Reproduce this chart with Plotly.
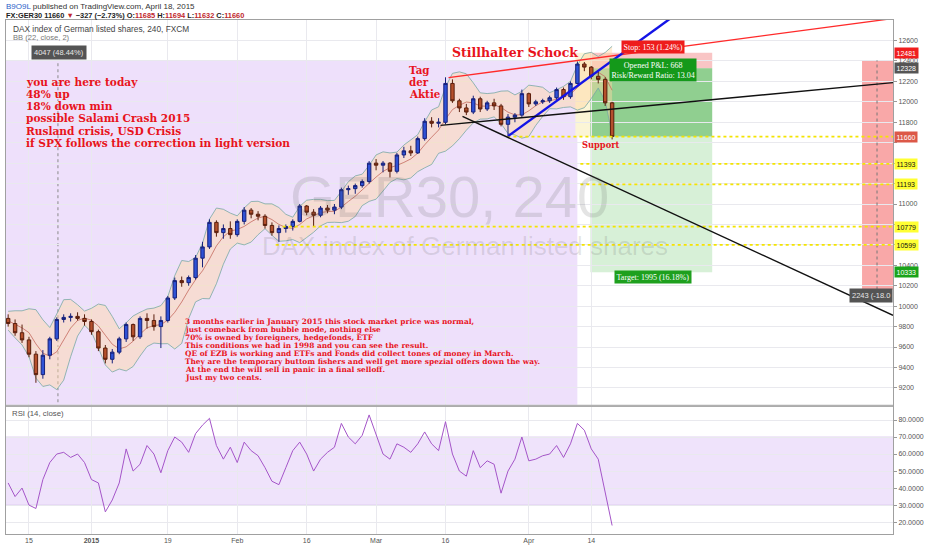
import numpy as np
import plotly.graph_objects as go

# ---------------- data ----------------
dates = [
    "2014-12-10", "2014-12-11", "2014-12-12", "2014-12-15", "2014-12-16", "2014-12-17", "2014-12-18", "2014-12-19", "2014-12-22", "2014-12-23",
    "2014-12-29", "2014-12-30", "2015-01-02", "2015-01-05", "2015-01-06", "2015-01-07", "2015-01-08", "2015-01-09", "2015-01-12", "2015-01-13",
    "2015-01-14", "2015-01-15", "2015-01-16", "2015-01-19", "2015-01-20", "2015-01-21", "2015-01-22", "2015-01-23", "2015-01-26", "2015-01-27",
    "2015-01-28", "2015-01-29", "2015-01-30", "2015-02-02", "2015-02-03", "2015-02-04", "2015-02-05", "2015-02-06", "2015-02-09", "2015-02-10",
    "2015-02-11", "2015-02-12", "2015-02-13", "2015-02-16", "2015-02-17", "2015-02-18", "2015-02-19", "2015-02-20", "2015-02-23", "2015-02-24",
    "2015-02-25", "2015-02-26", "2015-02-27", "2015-03-02", "2015-03-03", "2015-03-04", "2015-03-05", "2015-03-06", "2015-03-09", "2015-03-10",
    "2015-03-11", "2015-03-12", "2015-03-13", "2015-03-16", "2015-03-17", "2015-03-18", "2015-03-19", "2015-03-20", "2015-03-23", "2015-03-24",
    "2015-03-25", "2015-03-26", "2015-03-27", "2015-03-30", "2015-03-31", "2015-04-01", "2015-04-02", "2015-04-03", "2015-04-06", "2015-04-07",
    "2015-04-08", "2015-04-09", "2015-04-10", "2015-04-13", "2015-04-14", "2015-04-15", "2015-04-16", "2015-04-17",
]
opens = [
    9880, 9830, 9740, 9670, 9530, 9330, 9520, 9680, 9870, 9890,
    9900, 9880, 9850, 9750, 9590, 9480, 9550, 9680, 9820, 9700,
    9880, 9860, 9800, 9860, 10080, 10250, 10230, 10280, 10470, 10580,
    10820, 10720, 10760, 10700, 10830, 10940, 10900, 10880, 10790, 10720,
    10760, 10780, 10830, 10980, 10920, 10890, 10960, 10940, 10970, 11140,
    11150, 11180, 11220, 11400, 11380, 11400, 11320, 11480, 11520, 11500,
    11640, 11810, 11790, 11800, 12180, 12010, 11940, 11900, 12030, 11930,
    11990, 11960, 11780, 11850, 11870, 12080, 11980, 12000, 12010, 12040,
    12120, 12050, 12180, 12370, 12340, 12250, 12220, 11990,
]
highs = [
    9920, 9870, 9820, 9700, 9560, 9570, 9700, 9890, 9920, 9930,
    9940, 9920, 9870, 9770, 9620, 9580, 9700, 9840, 9830, 9900,
    9930, 9920, 9900, 10100, 10280, 10290, 10300, 10500, 10630, 10850,
    10840, 10800, 10830, 10850, 10970, 10960, 10930, 10900, 10820, 10790,
    10800, 10850, 11000, 10990, 10950, 10980, 10990, 11000, 11160, 11180,
    11200, 11240, 11420, 11440, 11420, 11410, 11500, 11560, 11570, 11660,
    11840, 11850, 11840, 12240, 12220, 12030, 11980, 12060, 12050, 12010,
    12030, 11980, 11880, 11890, 12120, 12090, 12020, 12030, 12060, 12140,
    12140, 12200, 12395, 12390, 12350, 12310, 12240, 12000,
]
lows = [
    9800, 9710, 9640, 9500, 9250, 9290, 9480, 9660, 9840, 9850,
    9860, 9810, 9720, 9560, 9440, 9440, 9530, 9650, 9660, 9680,
    9780, 9760, 9590, 9840, 10060, 10190, 10200, 10260, 10380, 10560,
    10680, 10660, 10660, 10680, 10800, 10860, 10840, 10760, 10690, 10630,
    10720, 10740, 10820, 10890, 10780, 10870, 10910, 10900, 10950, 11090,
    11100, 11160, 11200, 11330, 11310, 11260, 11300, 11450, 11470, 11490,
    11620, 11750, 11750, 11780, 11990, 11900, 11870, 11880, 11900, 11910,
    11920, 11760, 11650, 11800, 11850, 11950, 11960, 11980, 11990, 12020,
    12020, 12030, 12170, 12300, 12220, 12180, 11960, 11632,
]
closes = [
    9830, 9740, 9670, 9530, 9330, 9520, 9680, 9870, 9890, 9900,
    9880, 9850, 9750, 9590, 9480, 9550, 9680, 9820, 9700, 9880,
    9860, 9800, 9860, 10080, 10250, 10230, 10280, 10470, 10580, 10820,
    10720, 10760, 10700, 10830, 10940, 10900, 10880, 10790, 10720, 10760,
    10780, 10830, 10980, 10920, 10890, 10960, 10940, 10970, 11140, 11150,
    11180, 11220, 11400, 11380, 11400, 11320, 11480, 11520, 11500, 11640,
    11810, 11790, 11800, 12180, 12010, 11940, 11900, 12030, 11930, 11990,
    11960, 11780, 11850, 11870, 12080, 11980, 12000, 12010, 12040, 12120,
    12050, 12180, 12370, 12340, 12250, 12220, 11990, 11660,
]
rsi_values = [
    43, 35, 40, 30, 28, 45, 55, 60, 61, 58,
    60, 55, 45, 43, 26, 33, 43, 63, 50, 54,
    65, 60, 49, 62, 70, 67, 61, 72, 77, 81,
    65, 57, 64, 55, 67, 62, 59, 52, 44, 42,
    52, 62, 67, 60, 50, 57, 61, 64, 78, 70,
    66, 71, 83, 72, 60, 57, 66, 64, 61, 66,
    73, 66, 62, 79, 60, 50, 47, 62, 52, 56,
    54, 37, 50, 57, 70, 56, 57, 59, 60, 65,
    58, 66, 78, 74, 63, 57, 38, 18,
]
tick_dates = ["2014-12-15", "2015-01-02", "2015-01-19", "2015-02-02", "2015-02-16",
              "2015-03-02", "2015-03-16", "2015-04-01", "2015-04-14"]
tick_labels = ["15", "<b>2015</b>", "19", "Feb", "16", "Mar", "16", "Apr", "14"]
price_ticks = list(range(9200, 12601, 200))
hidden_price_ticks = [11600, 11400, 11200, 10800, 10600]   # covered by level labels
rsi_ticks = [20, 30, 40, 50, 60, 70, 80]

# drawing-tool values
range_up_top, range_up_size = 12402, 4047          # "4047 (48.44%)"
range_dn_top, range_dn_size = 12406, 2243          # "2243 (-18.08%)"
pos_entry, pos_stop, pos_target, pos_now = 12328, 12481, 10333, 11660
levels = [11660, 11393, 11193, 10779, 10599]

# ---------------- geometry helpers (layout only) ----------------
W, H = 932, 550
ML, MR, MT, MB = 5, 39, 20, 13
PW, PH = W - ML - MR, H - MT - MB
X_RANGE = [-0.31, 127.46]
Y_RANGE = [9035, 12801]
Y2_RANGE = [13.0, 87.8]
MAIN_BOTTOM_PX = 407


def px(x):
    return (x - ML) / PW


def py(y):
    return (H - MB - y) / PH


def dx(x):
    return X_RANGE[0] + (x - ML) / PW * (X_RANGE[1] - X_RANGE[0])


def dy(y):
    return Y_RANGE[1] - (y - MT) / (MAIN_BOTTOM_PX - MT) * (Y_RANGE[1] - Y_RANGE[0])


n = len(dates)
idx = np.arange(n)

# Bollinger-style band from the plotted prices
ohlc = np.column_stack([opens, highs, lows, closes]).astype(float)
bb_mid, bb_up, bb_lo = [], [], []
for k in range(n):
    seg_vals = ohlc[max(0, k - 3):k + 1].ravel()
    m, s = seg_vals.mean(), seg_vals.std()
    bb_mid.append(m)
    bb_up.append(m + 2 * s)
    bb_lo.append(m - 2 * s)

tickvals = [dates.index(d) for d in tick_dates]

fig = go.Figure()
fig.add_trace(go.Candlestick(
    x=idx, open=opens, high=highs, low=lows, close=closes,
    increasing=dict(line=dict(color="#16207a", width=1), fillcolor="#2f52d6"),
    decreasing=dict(line=dict(color="#5a1e0c", width=1), fillcolor="#b4502c"),
    whiskerwidth=0, xaxis="x", yaxis="y"))
fig.add_trace(go.Scatter(x=idx, y=rsi_values, mode="lines", line=dict(color="#a455c8", width=1),
                         hoverinfo="skip", xaxis="x2", yaxis="y2"))

shapes = []


def rect(x0, x1, y0, y1, fill, layer="below", xref="x", yref="y"):
    shapes.append(dict(type="rect", xref=xref, yref=yref, x0=x0, x1=x1, y0=y0, y1=y1,
                       fillcolor=fill, line=dict(width=0), layer=layer))


def seg(x0, y0, x1, y1, color, width, dash="solid", layer="above", xref="x", yref="y"):
    shapes.append(dict(type="line", xref=xref, yref=yref, x0=x0, y0=y0, x1=x1, y1=y1,
                       line=dict(color=color, width=width, dash=dash), layer=layer))


def polyline(xs, ys, close=False):
    p = "M " + " L ".join(f"{a:.3f},{b:.2f}" for a, b in zip(xs, ys))
    return p + (" Z" if close else "")


# purple price range box (+48.44%)
rect(-20, dx(577), range_up_top - range_up_size, range_up_top, "#eee0fb")
seg(dx(57), range_up_top - range_up_size, dx(57), range_up_top, "#8a8a8a", 1, "dot", layer="below")
# pale yellow strip
rect(dx(575), dx(590), pos_now, 12480, "#fbf5d6")
# short position tool
rect(dx(590), dx(712), pos_entry, pos_stop, "rgba(240,110,110,0.40)")
rect(dx(590), dx(712), pos_now, pos_entry, "rgba(70,175,70,0.60)")
rect(dx(590), dx(712), pos_target, pos_now, "rgba(110,200,110,0.28)")
# red price range box (-18.08%)
rect(dx(862), 140, range_dn_top - range_dn_size, range_dn_top, "rgba(245,110,110,0.60)")
seg(dx(877), range_dn_top - range_dn_size, dx(877), range_dn_top, "#777777", 1, "dot")

# Bollinger band (fill + lines) under the candles
shapes.append(dict(type="path", xref="x", yref="y", layer="between",
                   path=polyline(list(idx) + list(idx[::-1]), bb_up + bb_lo[::-1], close=True),
                   fillcolor="rgba(255,214,165,0.45)", line=dict(width=0)))
for band, col in ((bb_up, "#78a8a4"), (bb_lo, "#78a8a4"), (bb_mid, "#c46a5e")):
    shapes.append(dict(type="path", xref="x", yref="y", layer="between",
                       path=polyline(idx, band), line=dict(color=col, width=0.8)))

# yellow horizontal levels
level_start_px = [507, 580, 580, 282, 275]
for lv, sx in zip(levels, level_start_px):
    seg(dx(sx), lv, 140, lv, "#f4e400", 1.8, "dot")

# trend lines
seg(dx(448), dy(78), dx(893), dy(18.5), "#ff2a2a", 1.3)
seg(dx(507.7), dy(136.7), dx(680), dy(11.3), "#1414e6", 2.4)
seg(dx(440), dy(126), dx(893), dy(83), "#111111", 1.4)
seg(dx(462), dy(117), dx(893), dy(317), "#111111", 1.4)

# RSI 30-70 band
rect(0, 1, 30, 70, "#efe3fb", xref="paper", yref="y2")
seg(0, 70, 1, 70, "#d8c4ee", 0.8, layer="below", xref="paper", yref="y2")
seg(0, 30, 1, 30, "#d8c4ee", 0.8, layer="below", xref="paper", yref="y2")
# pane separator
seg(0, py(408), 1, py(408), "#b0b0b0", 2, xref="paper", yref="paper")

annotations = []


def note(x, y, text, size, color, family="Liberation Sans", xanchor="left", bg=None,
         pad=1, align="left"):
    a = dict(xref="paper", yref="paper", x=px(x), y=py(y), text=text, showarrow=False,
             xanchor=xanchor, yanchor="middle", align=align,
             font=dict(size=size, color=color, family=family))
    if bg:
        a.update(bgcolor=bg, borderpad=pad)
    annotations.append(a)


RED = "#e8141c"
SERIF = "DejaVu Serif"

# header
note(3, 6, "<span style='color:#2a62c9'>B9O9L</span> published on TradingView.com, April 18, 2015",
     8.0, "#333333")
note(3, 15.5, "<b>FX:GER30 11660 <span style='color:#c0262d'>▼</span> −327 (−2.73%) "
     "O:<span style='color:#c0262d'>11685</span> H:<span style='color:#c0262d'>11694</span> "
     "L:<span style='color:#c0262d'>11632</span> C:<span style='color:#c0262d'>11660</span></b>",
     7.4, "#222222")
note(10, 29, "DAX index of German listed shares, 240, FXCM", 8.3, "#444444")
note(10, 38, "BB (22, close, 2)", 7.6, "#777777")
note(9, 416, "RSI (14, close)", 7.8, "#555555")

# watermark
annotations.append(dict(xref="paper", yref="paper", x=px(449), y=py(198), text="GER30, 240",
                        showarrow=False, xanchor="center", yanchor="middle",
                        font=dict(size=58, color="rgba(90,90,90,0.16)", family="Liberation Sans")))
annotations.append(dict(xref="paper", yref="paper", x=px(465), y=py(247),
                        text="DAX index of German listed shares", showarrow=False,
                        xanchor="center", yanchor="middle",
                        font=dict(size=26, color="rgba(90,90,90,0.16)", family="Liberation Sans")))

# red commentary
top_lines = ["you are here today", "48% up", "18% down min", "possible Salami Crash 2015",
             "Rusland crisis, USD Crisis", "if SPX follows the correction in light version"]
for k, t in enumerate(top_lines):
    note(23, 82 + 12.3 * k, "<b>" + t + "</b>", 10.6, RED, SERIF)
for k, t in enumerate(["Tag", "der", "Aktie"]):
    note(406, 70 + 12.3 * k, "<b>" + t + "</b>", 10.3, RED, SERIF)
note(450, 53, "<b>Stillhalter Schock</b>", 12.5, RED, SERIF)
note(580, 146, "<b>Support</b>", 8.3, RED, SERIF)
bottom_lines = [
    "3 months earlier in January 2015 this stock market price was normal,",
    "just comeback from bubble mode, nothing else",
    "70% is owned by foreigners, hedgefonds, ETF",
    "This conditions we had in 1998 and you can see the result.",
    "QE of EZB is working and ETFs and Fonds did collect tones of money in March.",
    "They are the temporary buttom fishers and well get more spezial offers down the way.",
    "At the end the will sell in panic in a final selloff.",
    "Just my two cents.",
]
for k, t in enumerate(bottom_lines):
    note(182, 323 + 8.1 * k, "<b>" + t + "</b>", 7.4, RED, SERIF)

# tool labels
note(653, 47, "Stop: 153 (1.24%)", 8, "#ffffff", family="Liberation Serif", xanchor="center",
     bg="#ee1c1c", pad=1.5)
note(653, 70.5, "Opened P&L: 668<br>Risk/Reward Ratio: 13.04", 8, "#ffffff", family="Liberation Serif",
     xanchor="center", bg="#14991a", pad=1.5, align="center")
note(653, 279, "Target: 1995 (16.18%)", 8, "#ffffff", family="Liberation Serif", xanchor="center",
     bg="#1ea01e", pad=1.5)
note(58, 52.5, "4047 (48.44%)", 7.5, "#e6e6e6", xanchor="center", bg="#545454", pad=2)
note(893, 297, "2243 (-18.0", 7.5, "#e6e6e6", xanchor="right", bg="#545454", pad=2)

# right-axis price labels
axis_labels = [(pos_stop, "#f01e1e", "#ffffff"), (pos_entry, "#555555", "#ffffff"),
               (pos_now, "#dc5848", "#ffffff"), (11393, "#ffff33", "#111111"),
               (11193, "#ffff33", "#111111"), (10779, "#ffff33", "#111111"),
               (10599, "#ffff33", "#111111"), (pos_target, "#19a319", "#ffffff")]
for val, bg, fc in axis_labels:
    annotations.append(dict(xref="paper", yref="y", x=1.0, y=val, text=str(val), showarrow=False,
                            xanchor="left", yanchor="middle", xshift=1, bgcolor=bg, borderpad=1.5,
                            font=dict(size=7, color=fc, family="Liberation Sans")))

grid = "#e9e9ee"
fig.update_layout(
    width=W, height=H, margin=dict(l=ML, r=MR, t=MT, b=MB),
    plot_bgcolor="#ffffff", paper_bgcolor="#ffffff", showlegend=False, hovermode=False,
    shapes=shapes, annotations=annotations,
    xaxis=dict(domain=[0, 1], anchor="y", range=X_RANGE, tickvals=tickvals, showticklabels=False,
               showgrid=True, gridcolor=grid, zeroline=False, showline=True, mirror=True,
               linecolor="#a0a0a0", rangeslider=dict(visible=False), ticks=""),
    yaxis=dict(domain=[py(MAIN_BOTTOM_PX), 1], anchor="x", range=Y_RANGE, side="right",
               tickvals=price_ticks,
               ticktext=["" if v in hidden_price_ticks else str(v) for v in price_ticks],
               showgrid=True, gridcolor=grid, zeroline=False, showline=True, mirror=True,
               linecolor="#a0a0a0", ticks="outside", ticklen=3, tickcolor="#999999",
               tickfont=dict(size=7, color="#555555", family="Liberation Sans")),
    xaxis2=dict(domain=[0, 1], anchor="y2", range=X_RANGE, tickvals=tickvals, ticktext=tick_labels,
                showgrid=True, gridcolor=grid, zeroline=False, showline=True, mirror=True,
                linecolor="#a0a0a0", ticks="", tickfont=dict(size=7, color="#555555",
                                                             family="Liberation Sans")),
    yaxis2=dict(domain=[0, py(409)], anchor="x2", range=Y2_RANGE, side="right",
                tickvals=rsi_ticks, ticktext=[f"{v:.4f}" for v in rsi_ticks],
                showgrid=True, gridcolor=grid, zeroline=False, showline=True, mirror=True,
                linecolor="#a0a0a0", ticks="outside", ticklen=3, tickcolor="#999999",
                tickfont=dict(size=7, color="#555555", family="Liberation Sans")),
)

fig.write_html("out.html", config={"displayModeBar": False},
               post_script="document.body.style.margin='0px';document.body.style.overflow='hidden';")
